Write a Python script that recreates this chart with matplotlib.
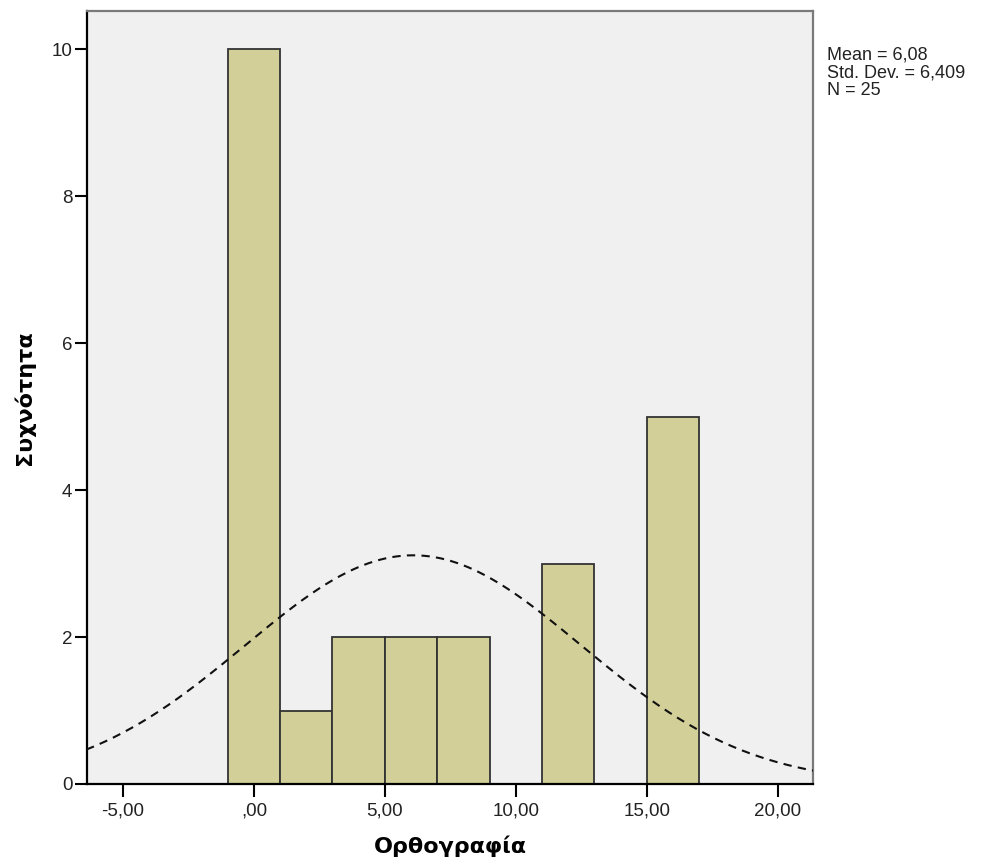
import matplotlib.pyplot as plt
import numpy as np

# Ορθογραφία - συχνότητες ανά διάστημα (πλάτος 2)
kentra = [0, 2, 4, 6, 8, 12, 16]
syxnotites = [10, 1, 2, 2, 2, 3, 5]
platos = 2

# στατιστικά δείγματος
mesos = 6.08
typ_apokl = 6.409
N = 25

x_ticks = [-5, 0, 5, 10, 15, 20]
x_labels = ["-5,00", ",00", "5,00", "10,00", "15,00", "20,00"]
y_ticks = [0, 2, 4, 6, 8, 10]

plt.rcParams['font.family'] = ['Liberation Sans', 'DejaVu Sans']

fig = plt.figure(figsize=(9.81, 8.68), dpi=100)
ax = fig.add_axes([0.0887, 0.0968, 0.74, 0.8905])
ax.set_facecolor('#f0f0f0')

ax.bar(kentra, syxnotites, width=platos, color='#d3cf98',
       edgecolor='#333333', linewidth=1.3, zorder=2)

# καμπύλη κανονικής κατανομής
xx = np.linspace(-6.4, 21.4, 400)
yy = N * platos * np.exp(-0.5 * ((xx - mesos) / typ_apokl) ** 2) / (typ_apokl * np.sqrt(2 * np.pi))
ax.plot(xx, yy, color='#111111', linestyle=(0, (4, 3)), linewidth=1.5, zorder=3)

ax.set_xlim(-6.37, 21.34)
ax.set_ylim(0, 10.52)
ax.set_xticks(x_ticks)
ax.set_xticklabels(x_labels)
ax.set_yticks(y_ticks)

for s in ['left', 'bottom']:
    ax.spines[s].set_color('#000000')
    ax.spines[s].set_linewidth(1.6)
for s in ['top', 'right']:
    ax.spines[s].set_color('#7a7a7a')
    ax.spines[s].set_linewidth(1.6)

ax.tick_params(axis='x', length=9, width=1.5, pad=4, labelsize=13.5, colors='#000000')
ax.tick_params(axis='y', length=9, width=1.5, pad=1.5, labelsize=13.5, colors='#000000')
for t in ax.get_xticklabels() + ax.get_yticklabels():
    t.set_color('#222222')

ax.set_xlabel('Ορθογραφία', fontsize=16, fontweight='bold', family='DejaVu Sans', labelpad=12)
ax.set_ylabel('Συχνότητα', fontsize=16, fontweight='bold', family='DejaVu Sans', labelpad=12)

fig.text(0.843, 0.946, 'Mean = 6,08\nStd. Dev. = 6,409\nN = 25',
         fontsize=13, va='top', ha='left', linespacing=1.05, color='#222222')

fig.savefig('out.png', dpi=100)
